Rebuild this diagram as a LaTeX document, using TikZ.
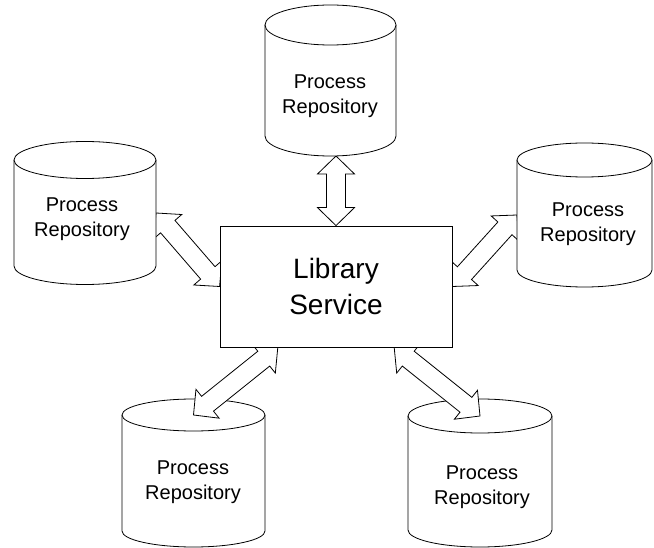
\documentclass[tikz,border=0pt]{standalone}
\usepackage{fontspec}
\setmainfont{Liberation Sans}
\usetikzlibrary{calc}
\pgfdeclarelayer{base}
\pgfdeclarelayer{links}
\pgfsetlayers{base,links,main}

\tikzset{
  outline/.style={line width=0.8pt, line join=miter},
  repotext/.style={font=\fontsize{20}{25}\selectfont, align=center, inner sep=0pt},
  libbox/.style={outline, draw, fill=white, minimum width=232pt, minimum height=121pt,
                 inner sep=0pt, align=center, font=\fontsize{28}{36}\selectfont},
  fatarrow/.style={outline, draw, fill=white},
}

% upright drum: #1 name, #2 centre x, #3 x radius, #4 top face centre y,
% #5 bottom rim centre y, #6 y radius, #7/#8 label position
\newcommand\repodrum[8]{%
  \fill[white] (#2-#3,#4) -- (#2-#3,#5)
     .. controls (#2-#3,#5+0.5523*#6) and (#2-0.5523*#3,#5+#6) .. (#2,#5+#6)
     .. controls (#2+0.5523*#3,#5+#6) and (#2+#3,#5+0.5523*#6) .. (#2+#3,#5)
     -- (#2+#3,#4) -- cycle;
  \draw[outline] (#2-#3,#4) -- (#2-#3,#5)
     .. controls (#2-#3,#5+0.5523*#6) and (#2-0.5523*#3,#5+#6) .. (#2,#5+#6)
     .. controls (#2+0.5523*#3,#5+#6) and (#2+#3,#5+0.5523*#6) .. (#2+#3,#5)
     -- (#2+#3,#4);
  \filldraw[outline, fill=white] (#2,#4) ellipse [x radius=#3, y radius=#6];
  \coordinate (#1-top) at (#2,#4);
  \coordinate (#1-bot) at (#2,#5+#6);
  \coordinate (#1-e) at (#2+#3,{(#4+#5)/2});
  \coordinate (#1-w) at (#2-#3,{(#4+#5)/2});
  \node[repotext] (#1) at (#7,#8) {Process\\Repository};
}

% hollow double-headed block arrow between two named points
\newcommand\biarrow[2]{%
  \path ($(#1)!18pt!(#2)$) coordinate (ha) ($(#2)!18pt!(#1)$) coordinate (hb);
  \draw[fatarrow] (#1)
    -- ($(ha)!18.5pt!90:(#2)$) -- ($(ha)!9.5pt!90:(#2)$)
    -- ($(hb)!9.5pt!-90:(#1)$) -- ($(hb)!18.5pt!-90:(#1)$)
    -- (#2)
    -- ($(hb)!18.5pt!90:(#1)$) -- ($(hb)!9.5pt!90:(#1)$)
    -- ($(ha)!9.5pt!-90:(#2)$) -- ($(ha)!18.5pt!-90:(#2)$)
    -- cycle;
}

\begin{document}
\begin{tikzpicture}[x=1pt, y=-1pt]
  \useasboundingbox (0,0) rectangle (654,548);

  % central service
  \node[libbox] (lib) at (336,286.5) {Library\\Service};
  \coordinate (lib-n) at (lib.north);
  \coordinate (lib-w) at (lib.west);
  \coordinate (lib-e) at (lib.east);
  \coordinate (lib-sw) at ($(lib.south west)!0.25!(lib.south east)$);
  \coordinate (lib-se) at ($(lib.south west)!0.75!(lib.south east)$);

  % repositories above and beside the service
  \repodrum{repoT}{330.5}{65.5}{25}{136}{20}{330}{96.6}
  \repodrum{repoL}{85}{71}{160}{266}{18.5}{82}{219.6}
  \repodrum{repoR}{584.5}{67.5}{160}{270}{17}{588}{224.6}
  \coordinate (repoT-foot) at (lib-n |- repoT-bot);

  % repositories below, under the arrows
  \begin{pgfonlayer}{base}
    \repodrum{repoBL}{193.5}{71.5}{415}{531}{16}{193}{482.6}
    \repodrum{repoBR}{480}{72}{416}{530}{17}{482}{487.6}
  \end{pgfonlayer}

  % links
  \begin{pgfonlayer}{links}
    \biarrow{repoT-foot}{lib-n}
    \biarrow{repoL-e}{lib-w}
    \biarrow{lib-e}{repoR-w}
    \biarrow{lib-sw}{repoBL-top}
    \biarrow{lib-se}{repoBR-top}
  \end{pgfonlayer}
\end{tikzpicture}
\end{document}
